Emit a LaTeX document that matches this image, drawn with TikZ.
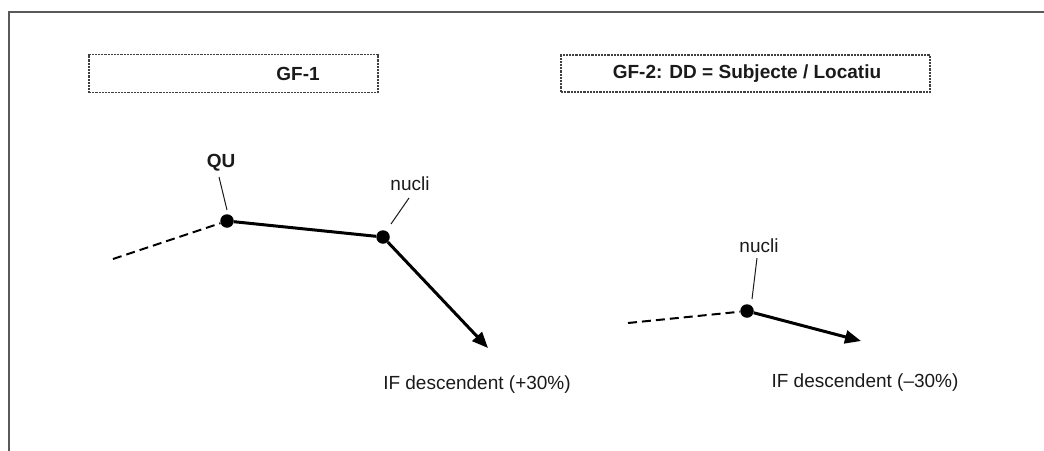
\documentclass[tikz,border=0pt]{standalone}
\usepackage{fontspec}
\setmainfont{Liberation Sans}
\usetikzlibrary{arrows.meta}
\definecolor{ink}{HTML}{1A1A1A}
\begin{document}
\begin{tikzpicture}[x=1pt,y=-1pt,
  txt/.style={inner sep=0pt,text=ink,font=\fontsize{19}{23}\selectfont},
  btxt/.style={txt,font=\fontsize{19}{23}\selectfont\bfseries},
  titlebox/.style={draw=black!75,line width=1.2pt,dash pattern=on 2.2pt off 1pt,inner sep=0pt},
  dot/.style={circle,fill=black,inner sep=0pt,minimum size=13.5pt},
  thickline/.style={line width=3pt,black},
  dashline/.style={line width=2pt,black,dash pattern=on 9pt off 5pt},
  leader/.style={line width=1pt,ink},
  arr/.style={thickline,-{Triangle[length=16pt,width=13pt]}},
  frame/.style={line width=2pt,black!65}
]
\useasboundingbox (0,0) rectangle (1044,450);
\draw[frame] (9,451) -- (9,12) -- (1045,12);

% title boxes
\node[titlebox,minimum width=289pt,minimum height=38pt] (box1) at (233.5,73.5) {};
\node[btxt] (t1) at (298,74) {GF-1};
\node[titlebox,minimum width=369pt,minimum height=37pt] (box2) at (745.5,73.5) {};
\node[btxt] (t2) at (747,74) {GF-2: DD = Subjecte / Locatiu};

% left contour
\coordinate (s1) at (113,259);
\node[dot] (qu) at (227,221) {};
\node[dot] (n1) at (383,237) {};
\coordinate (e1) at (488,348);
\draw[dashline] (s1) -- (qu);
\draw[thickline] (qu) -- (n1);
\draw[arr] (n1) -- (e1);
\node[btxt] (qul) at (221,163) {QU};
\coordinate (qa) at (219,177);
\coordinate (qb) at (227,210);
\draw[leader] (qa) -- (qb);
\node[txt] (n1l) at (410,184) {nucli};
\coordinate (na) at (409,198);
\coordinate (nb) at (391,224);
\draw[leader] (na) -- (nb);
\node[txt] (if1) at (477,385) {IF descendent (+30\%)};

% right contour
\coordinate (s2) at (628,323);
\node[dot] (n2) at (747,311) {};
\coordinate (e2) at (861,341);
\draw[dashline] (s2) -- (n2);
\draw[arr] (n2) -- (e2);
\node[txt] (n2l) at (759,246) {nucli};
\coordinate (ma) at (757,258);
\coordinate (mb) at (752,299);
\draw[leader] (ma) -- (mb);
\node[txt] (if2) at (865,383) {IF descendent (–30\%)};
\end{tikzpicture}
\end{document}
